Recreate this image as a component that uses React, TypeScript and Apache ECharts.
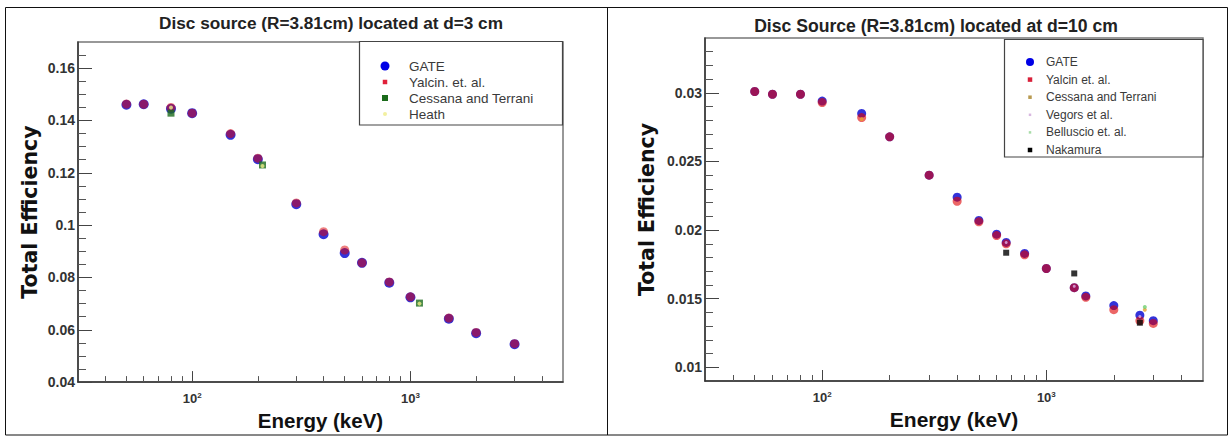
import React, { useEffect, useRef } from 'react';
import * as echarts from 'echarts';

// ---------- Left panel (d = 3 cm) ----------
const leftTitle = 'Disc source (R=3.81cm) located at d=3 cm';
const leftEnergies = [50, 60, 80, 100, 150, 200, 300, 400, 500, 600, 800, 1000, 1500, 2000, 3000];
const leftGate = [0.1460, 0.1462, 0.1445, 0.1428, 0.1345, 0.1252, 0.1080, 0.0965, 0.0893, 0.0856, 0.0780, 0.0724, 0.0642, 0.0587, 0.0545];
const leftYalcin = [0.1463, 0.1462, 0.1450, 0.1428, 0.1350, 0.1256, 0.1085, 0.0975, 0.0905, 0.0856, 0.0783, 0.0726, 0.0645, 0.0590, 0.0547];
const leftCessanaE = [80, 210, 1100];
const leftCessana = [0.1428, 0.1230, 0.0702];
const leftHeathE = [80, 210, 1100];
const leftHeath = [0.1450, 0.1226, 0.0700];
const leftYMajor = [0.04, 0.06, 0.08, 0.1, 0.12, 0.14, 0.16];
const leftYMinor = [0.045, 0.05, 0.055, 0.065, 0.07, 0.075, 0.085, 0.09, 0.095, 0.105, 0.11, 0.115, 0.125, 0.13, 0.135, 0.145, 0.15, 0.155, 0.165];

// ---------- Right panel (d = 10 cm) ----------
const rightTitle = 'Disc Source (R=3.81cm) located at d=10 cm';
const rightEnergies = [50, 60, 80, 100, 150, 200, 300, 400, 500, 600, 662, 800, 1000, 1332, 1500, 2000, 2614, 3000];
const rightGate = [0.0301, 0.0299, 0.0299, 0.0294, 0.0285, 0.0268, 0.0240, 0.0224, 0.0207, 0.0197, 0.0191, 0.0183, 0.0172, 0.0158, 0.0152, 0.0145, 0.0138, 0.0134];
const rightYalcin = [0.0301, 0.0299, 0.0299, 0.0293, 0.0282, 0.0268, 0.0240, 0.0221, 0.0206, 0.0196, 0.0190, 0.0182, 0.0172, 0.0158, 0.0151, 0.0142, 0.0134, 0.0132];
const rightCessanaE = [150, 2750];
const rightCessana = [0.0281, 0.0142];
const rightVegorsE = [662, 1332, 2614];
const rightVegors = [0.0191, 0.0159, 0.0137];
const rightBelluscioE = [2750];
const rightBelluscio = [0.0144];
const rightNakamuraE = [662, 1332, 2614];
const rightNakamura = [0.01835, 0.01684, 0.01325];
const rightYMajor = [0.01, 0.015, 0.02, 0.025, 0.03];
const rightYMinor = [0.011, 0.012, 0.013, 0.014, 0.016, 0.017, 0.018, 0.019, 0.021, 0.022, 0.023, 0.024, 0.026, 0.027, 0.028, 0.029, 0.031, 0.032, 0.033];

// ---------- Shared x axis ticks ----------
const xMajorTicks = [100, 1000];
const xTickExponents = ['2', '3'];
const xMinorTicks = [40, 50, 60, 70, 80, 90, 200, 300, 400, 500, 600, 700, 800, 900, 2000, 3000, 4000];

const FONT = "'Liberation Sans', Arial, Helvetica, sans-serif";

const zip = (xs: number[], ys: number[]) => xs.map((x, i) => [x, ys[i]]);

const circleIcon = (w: number, h: number, cx: number, r: number) =>
  `path://M0,0M${w},${h}M${cx - r},${h / 2}A${r},${r},0,1,1,${cx + r},${h / 2}A${r},${r},0,1,1,${cx - r},${h / 2}Z`;
const squareIcon = (w: number, h: number, cx: number, s: number) =>
  `path://M0,0M${w},${h}M${cx - s / 2},${h / 2 - s / 2}h${s}v${s}h${-s}Z`;

const exponentLabel = (v: number) => {
  let idx = 0;
  xMajorTicks.forEach((t, i) => {
    if (Math.abs(Math.log10(v) - Math.log10(t)) < 0.01) idx = i;
  });
  return `{b|10}{s|${xTickExponents[idx]}}`;
};

function xAxes(g: number, nameGap: number, nameSize: number) {
  return [
    {
      type: 'log', logBase: 10, gridIndex: g, min: 30, max: 5000, position: 'bottom',
      name: 'Energy (keV)', nameLocation: 'middle', nameGap,
      nameTextStyle: { fontFamily: FONT, fontWeight: 'bold', fontSize: nameSize, color: '#111' },
      axisLine: { show: true, lineStyle: { color: '#333', width: 1.5 } },
      axisTick: { show: true, inside: true, length: 11, customValues: xMajorTicks, lineStyle: { color: '#444' } },
      minorTick: { show: false },
      axisLabel: {
        customValues: xMajorTicks, margin: 9,
        formatter: (v: number) => exponentLabel(v),
        rich: {
          b: { fontFamily: FONT, fontWeight: 'bold', fontSize: 13, color: '#333', lineHeight: 15 },
          s: { fontFamily: FONT, fontWeight: 'bold', fontSize: 8, color: '#333', verticalAlign: 'top', lineHeight: 15, padding: [0, 0, 6, 0] },
        },
      },
      splitLine: { show: false },
    },
    {
      type: 'log', logBase: 10, gridIndex: g, min: 30, max: 5000, position: 'bottom',
      axisLine: { show: false },
      axisTick: { show: true, inside: true, length: 6, customValues: xMinorTicks, lineStyle: { color: '#555' } },
      axisLabel: { show: false },
      splitLine: { show: false },
    },
  ];
}

function yAxes(g: number, min: number, max: number, major: number[], minor: number[], nameGap: number) {
  return [
    {
      type: 'value', gridIndex: g, min, max, position: 'left',
      name: 'Total Efficiency', nameLocation: 'middle', nameGap, nameRotate: 90,
      nameTextStyle: { fontFamily: "'DejaVu Sans', sans-serif", fontWeight: 'bold', fontSize: 20.5, color: '#111' },
      axisLine: { show: true, lineStyle: { color: '#333', width: 1.5 } },
      axisTick: { show: true, inside: true, length: 14, customValues: major, lineStyle: { color: '#444' } },
      minorTick: { show: false },
      axisLabel: { customValues: major, margin: 3, fontFamily: FONT, fontWeight: 'bold', fontSize: 14, color: '#333' },
      splitLine: { show: false },
    },
    {
      type: 'value', gridIndex: g, min, max, position: 'left',
      axisLine: { show: false },
      axisTick: { show: true, inside: true, length: 8, customValues: minor, lineStyle: { color: '#555' } },
      axisLabel: { show: false },
      splitLine: { show: false },
    },
  ];
}

const option: any = {
  animation: false,
  backgroundColor: '#fff',
  title: [
    { text: leftTitle, left: 331, top: 14, textAlign: 'center', padding: 0,
      textStyle: { fontFamily: FONT, fontWeight: 'bold', fontSize: 17.2, color: '#222' } },
    { text: rightTitle, left: 936, top: 17, textAlign: 'center', padding: 0,
      textStyle: { fontFamily: FONT, fontWeight: 'bold', fontSize: 17.6, color: '#222' } },
  ],
  grid: [
    { left: 78, top: 42, width: 485, height: 341, show: true, borderColor: '#777', borderWidth: 1.5, backgroundColor: 'transparent' },
    { left: 705, top: 38, width: 498, height: 343, show: true, borderColor: '#777', borderWidth: 1.5, backgroundColor: 'transparent' },
  ],
  xAxis: [...xAxes(0, 27, 20.5), ...xAxes(1, 27, 21)],
  yAxis: [
    ...yAxes(0, 0.04, 0.17, leftYMajor, leftYMinor, 38),
    ...yAxes(1, 0.009, 0.034, rightYMajor, rightYMinor, 48),
  ],
  legend: [
    {
      z: 10, orient: 'vertical', left: 380.5, top: 58, padding: 0, itemGap: 0,
      itemWidth: 23.5, itemHeight: 16, selectedMode: false, align: 'left',
      textStyle: { fontFamily: FONT, fontSize: 13.5, color: '#3a3a3a', lineHeight: 16 },
      data: [
        { name: 'GATE', icon: circleIcon(23.5, 16, 4.5, 4.5), itemStyle: { color: '#0000e6', opacity: 1 } },
        { name: 'Yalcin. et. al.', icon: squareIcon(23.5, 16, 4.5, 4.5), itemStyle: { color: '#e0203a', opacity: 1 } },
        { name: 'Cessana and Terrani', icon: squareIcon(23.5, 16, 4.5, 6), itemStyle: { color: '#1b6b1b', opacity: 1 } },
        { name: 'Heath', icon: circleIcon(23.5, 16, 4.5, 2), itemStyle: { color: '#f2f0a0', opacity: 1 } },
      ],
    },
    {
      z: 10, orient: 'vertical', left: 1026, top: 53.2, padding: 0, itemGap: 0,
      itemWidth: 15, itemHeight: 17.6, selectedMode: false, align: 'left',
      textStyle: { fontFamily: FONT, fontSize: 12, color: '#3a3a3a', lineHeight: 17.6 },
      data: [
        { name: 'GATE ', icon: circleIcon(15, 17.6, 4, 4), itemStyle: { color: '#0000e6', opacity: 1 } },
        { name: 'Yalcin et. al.', icon: squareIcon(15, 17.6, 4, 4.5), itemStyle: { color: '#d8203a', opacity: 1 } },
        { name: 'Cessana and Terrani ', icon: squareIcon(15, 17.6, 4, 3.5), itemStyle: { color: '#b89a50', opacity: 1 } },
        { name: 'Vegors et al.', icon: squareIcon(15, 17.6, 4, 2.5), itemStyle: { color: '#d8b8e0', opacity: 1 } },
        { name: 'Belluscio et. al.', icon: squareIcon(15, 17.6, 4, 2.5), itemStyle: { color: '#a8dca8', opacity: 1 } },
        { name: 'Nakamura', icon: squareIcon(15, 17.6, 4, 4.5), itemStyle: { color: '#000', opacity: 1 } },
      ],
    },
  ],
  graphic: [
    { type: 'rect', z: 5, shape: { x: 359.5, y: 41.5, width: 203, height: 83.5 },
      style: { fill: '#fff', stroke: '#444', lineWidth: 1.2 } },
    { type: 'rect', z: 5, shape: { x: 1004.5, y: 39.5, width: 198.5, height: 117.5 },
      style: { fill: '#fff', stroke: '#444', lineWidth: 1.2 } },
    { type: 'rect', z: 1, shape: { x: 5.5, y: 7.5, width: 1222, height: 427.5 },
      style: { fill: 'none', stroke: '#111', lineWidth: 1 } },
    { type: 'line', z: 1, shape: { x1: 607.5, y1: 7.5, x2: 607.5, y2: 435 },
      style: { stroke: '#111', lineWidth: 1 } },
  ],
  series: [
    // left panel
    { type: 'scatter', name: 'GATE', xAxisIndex: 0, yAxisIndex: 0, data: zip(leftEnergies, leftGate),
      symbol: 'circle', symbolSize: 10, itemStyle: { color: '#0000d0' }, z: 2 },
    { type: 'scatter', name: 'Yalcin. et. al.', xAxisIndex: 0, yAxisIndex: 0, data: zip(leftEnergies, leftYalcin),
      symbol: 'circle', symbolSize: 9, itemStyle: { color: '#e00000', opacity: 0.5 }, z: 3 },
    { type: 'scatter', name: 'Cessana and Terrani', xAxisIndex: 0, yAxisIndex: 0, data: zip(leftCessanaE, leftCessana),
      symbol: 'rect', symbolSize: 7, itemStyle: { color: '#1b6b1b' }, z: 4 },
    { type: 'scatter', name: 'Heath', xAxisIndex: 0, yAxisIndex: 0, data: zip(leftHeathE, leftHeath),
      symbol: 'circle', symbolSize: 4, itemStyle: { color: '#eeee88' }, z: 5 },
    // right panel
    { type: 'scatter', name: 'GATE ', xAxisIndex: 2, yAxisIndex: 2, data: zip(rightEnergies, rightGate),
      symbol: 'circle', symbolSize: 9, itemStyle: { color: '#0000d0' }, z: 2 },
    { type: 'scatter', name: 'Yalcin et. al.', xAxisIndex: 2, yAxisIndex: 2, data: zip(rightEnergies, rightYalcin),
      symbol: 'circle', symbolSize: 9, itemStyle: { color: '#e00000', opacity: 0.6 }, z: 3 },
    { type: 'scatter', name: 'Cessana and Terrani ', xAxisIndex: 2, yAxisIndex: 2, data: zip(rightCessanaE, rightCessana),
      symbol: 'circle', symbolSize: 4, itemStyle: { color: '#e8a030' }, z: 4 },
    { type: 'scatter', name: 'Vegors et al.', xAxisIndex: 2, yAxisIndex: 2, data: zip(rightVegorsE, rightVegors),
      symbol: 'circle', symbolSize: 3, itemStyle: { color: '#e0b0e8' }, z: 4 },
    { type: 'scatter', name: 'Belluscio et. al.', xAxisIndex: 2, yAxisIndex: 2, data: zip(rightBelluscioE, rightBelluscio),
      symbol: 'circle', symbolSize: 4, itemStyle: { color: '#70d070' }, z: 4 },
    { type: 'scatter', name: 'Nakamura', xAxisIndex: 2, yAxisIndex: 2, data: zip(rightNakamuraE, rightNakamura),
      symbol: 'rect', symbolSize: 6, itemStyle: { color: '#000' }, z: 5 },
  ],
};

export default function App() {
  const ref = useRef<HTMLDivElement>(null);
  useEffect(() => {
    const chart = echarts.init(ref.current as HTMLDivElement, null, { renderer: 'svg' });
    chart.setOption(option);
    return () => chart.dispose();
  }, []);
  return (
    <div
      ref={ref}
      style={{ position: 'fixed', left: 0, top: 0, width: 1231, height: 436, background: '#fff' }}
    />
  );
}
